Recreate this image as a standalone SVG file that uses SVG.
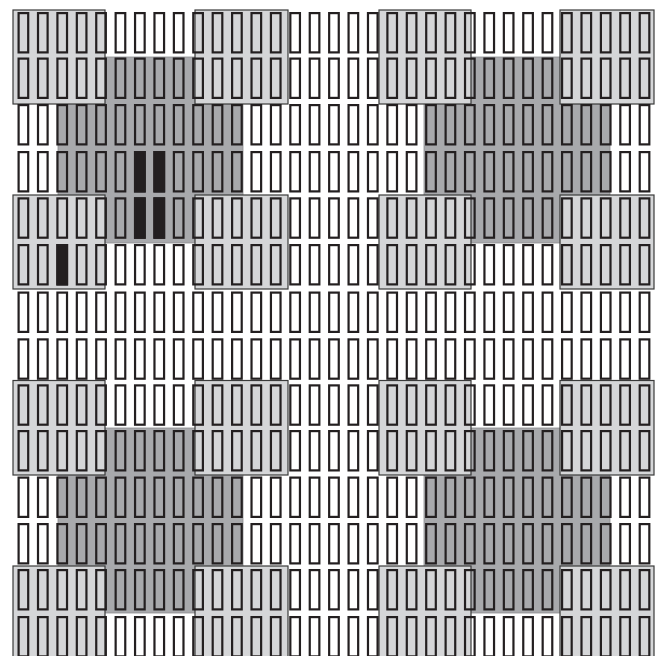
<svg xmlns="http://www.w3.org/2000/svg" xmlns:xlink="http://www.w3.org/1999/xlink" width="661" height="656" viewBox="0 0 661 656">
<style>
.cell{fill:none;stroke:#231f20;stroke-width:2.2}
.blk{fill:#231f20;stroke:#231f20;stroke-width:2.2}
.lt{fill:#d5d6d8;stroke:#3a3a3a;stroke-width:1.2}
.dk{fill:#a8a9ac;stroke:#8c8d90;stroke-width:0.8}
</style>
<defs>
<rect id="c" class="cell" x="0" y="0" width="9.6" height="39.3"/>
<g id="row">
<use href="#c" x="18.6"/><use href="#c" x="38.01"/><use href="#c" x="57.42"/><use href="#c" x="76.83"/><use href="#c" x="96.24"/><use href="#c" x="115.65"/><use href="#c" x="135.06"/><use href="#c" x="154.47"/><use href="#c" x="173.88"/><use href="#c" x="193.29"/><use href="#c" x="212.7"/><use href="#c" x="232.11"/><use href="#c" x="251.52"/><use href="#c" x="270.93"/><use href="#c" x="290.34"/><use href="#c" x="309.75"/><use href="#c" x="329.16"/><use href="#c" x="348.57"/><use href="#c" x="367.98"/><use href="#c" x="387.39"/><use href="#c" x="406.8"/><use href="#c" x="426.21"/><use href="#c" x="445.62"/><use href="#c" x="465.03"/><use href="#c" x="484.44"/><use href="#c" x="503.85"/><use href="#c" x="523.26"/><use href="#c" x="542.67"/><use href="#c" x="562.08"/><use href="#c" x="581.49"/><use href="#c" x="600.9"/><use href="#c" x="620.31"/><use href="#c" x="639.72"/>
</g>
</defs>
<rect width="661" height="656" fill="#ffffff"/>
<g id="dark-squares">
<rect class="dk" x="58" y="57" width="185" height="186"/>
<rect class="dk" x="424" y="57" width="186" height="186"/>
<rect class="dk" x="58" y="428" width="185" height="185"/>
<rect class="dk" x="424" y="428" width="186" height="185"/>
</g>
<g id="light-squares">
<rect class="lt" x="13" y="10" width="92" height="94"/>
<rect class="lt" x="195" y="10" width="93" height="94"/>
<rect class="lt" x="379" y="10" width="92" height="94"/>
<rect class="lt" x="560" y="10" width="94" height="94"/>
<rect class="lt" x="13" y="195" width="92" height="94"/>
<rect class="lt" x="195" y="195" width="93" height="94"/>
<rect class="lt" x="379" y="195" width="92" height="94"/>
<rect class="lt" x="560" y="195" width="94" height="94"/>
<rect class="lt" x="13" y="380.5" width="92" height="94.5"/>
<rect class="lt" x="195" y="380.5" width="93" height="94.5"/>
<rect class="lt" x="379" y="380.5" width="92" height="94.5"/>
<rect class="lt" x="560" y="380.5" width="94" height="94.5"/>
<rect class="lt" x="13" y="566" width="92" height="94"/>
<rect class="lt" x="195" y="566" width="93" height="94"/>
<rect class="lt" x="379" y="566" width="92" height="94"/>
<rect class="lt" x="560" y="566" width="94" height="94"/>
</g>
<g id="grid">
<use href="#row" y="13.1"/>
<use href="#row" y="58.6"/>
<use href="#row" y="105.1"/>
<use href="#row" y="152.1"/>
<use href="#row" y="198.4"/>
<use href="#row" y="245.1"/>
<use href="#row" y="292.6"/>
<use href="#row" y="339.4"/>
<use href="#row" y="385.4"/>
<use href="#row" y="431.1"/>
<use href="#row" y="477.6"/>
<use href="#row" y="524.1"/>
<use href="#row" y="570.1"/>
<use href="#row" y="617.1"/>
</g>
<g id="black-cells">
<rect class="blk" x="135.06" y="152.1" width="9.6" height="39.3"/>
<rect class="blk" x="154.47" y="152.1" width="9.6" height="39.3"/>
<rect class="blk" x="135.06" y="198.4" width="9.6" height="39.3"/>
<rect class="blk" x="154.47" y="198.4" width="9.6" height="39.3"/>
<rect class="blk" x="57.42" y="245.1" width="9.6" height="39.3"/>
</g>
</svg>
